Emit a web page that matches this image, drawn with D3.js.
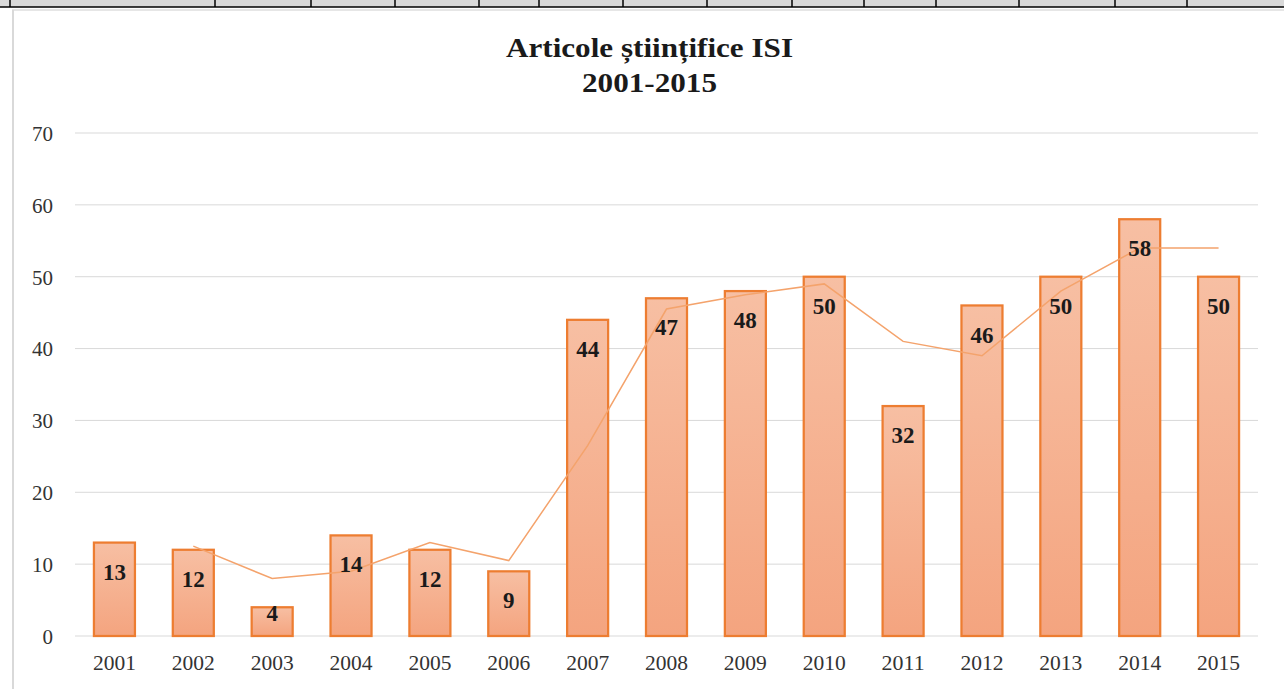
<!DOCTYPE html>
<html>
<head>
<meta charset="utf-8">
<script src="https://cdn.jsdelivr.net/npm/d3@7"></script>
<style>
  html, body { margin: 0; padding: 0; background: #fff; }
  svg { display: block; }
  .axis text { font-family: "Liberation Serif", "Times New Roman", serif; font-size: 21px; fill: #333; }
  .axis path, .axis line { display: none; }
</style>
</head>
<body>
<div id="chart"></div>
<script>
// data
const years = ['2001','2002','2003','2004','2005','2006','2007','2008','2009','2010','2011','2012','2013','2014','2015'];
const articles = [13, 12, 4, 14, 12, 9, 44, 47, 48, 50, 32, 46, 50, 58, 50];
// 2-period moving average trend line (starts at 2002)
const trendYears = ['2002','2003','2004','2005','2006','2007','2008','2009','2010','2011','2012','2013','2014','2015'];
const trendValues = [12.5, 8, 9, 13, 10.5, 26.5, 45.5, 47.5, 49, 41, 39, 48, 54, 54];
const yTicks = [0, 10, 20, 30, 40, 50, 60, 70];
// dividers of the spreadsheet row above the chart
const headerCols = [10, 215, 311, 395, 479, 539, 623, 707, 792, 864, 936, 1019, 1115, 1187];

const W = 1284, H = 689;
const plot = {l: 75, r: 1258, t: 133, b: 636};

const svg = d3.select('#chart').append('svg')
  .attr('width', W)
  .attr('height', H);

const defs = svg.append('defs');
const grad = defs.append('linearGradient')
  .attr('id', 'barFill')
  .attr('x1', 0).attr('y1', 0).attr('x2', 0).attr('y2', 1);
grad.append('stop').attr('offset', '0%').attr('stop-color', '#f7bfa3');
grad.append('stop').attr('offset', '100%').attr('stop-color', '#f4a47f');

// spreadsheet strip at the top
svg.append('rect').attr('x', 0).attr('y', 0).attr('width', W).attr('height', 7).attr('fill', '#d9d9d9');
svg.append('line').attr('x1', 0).attr('x2', W).attr('y1', 7).attr('y2', 7)
  .attr('stroke', '#000').attr('stroke-width', 1.5);
svg.selectAll('.hdr')
  .data(headerCols)
  .enter().append('line')
  .attr('class', 'hdr')
  .attr('x1', d => d).attr('x2', d => d)
  .attr('y1', 0).attr('y2', 7)
  .attr('stroke', '#000').attr('stroke-width', 1.5);

// chart area border
svg.append('line').attr('x1', 12).attr('x2', W).attr('y1', 10).attr('y2', 10)
  .attr('stroke', '#e6e6e6').attr('stroke-width', 2);
svg.append('line').attr('x1', 13).attr('x2', 13).attr('y1', 10).attr('y2', H)
  .attr('stroke', '#d9d9d9').attr('stroke-width', 2);

// title (glyphs stretched to the reference width)
const title = svg.append('text')
  .attr('text-anchor', 'middle')
  .style('font-family', '"Liberation Serif", "Times New Roman", serif')
  .style('font-weight', 'bold')
  .style('font-size', '27px')
  .attr('fill', '#1a1a1a');
title.append('tspan').attr('x', 649.5).attr('y', 57)
  .attr('textLength', 287).attr('lengthAdjust', 'spacingAndGlyphs')
  .text('Articole științifice ISI');
title.append('tspan').attr('x', 649.5).attr('y', 92)
  .attr('textLength', 135).attr('lengthAdjust', 'spacingAndGlyphs')
  .text('2001-2015');

const scaleX = d3.scaleBand()
  .domain(years)
  .range([plot.l, plot.r])
  .paddingInner(0.48)
  .paddingOuter(0.24);

const scaleY = d3.scaleLinear()
  .domain([0, 70])
  .range([plot.b, plot.t]);

// gridlines
svg.append('g')
  .selectAll('line')
  .data(yTicks)
  .enter().append('line')
  .attr('x1', plot.l).attr('x2', plot.r)
  .attr('y1', d => scaleY(d)).attr('y2', d => scaleY(d))
  .attr('stroke', '#d9d9d9').attr('stroke-width', 1);

// axes
const axisY = d3.axisLeft(scaleY).tickValues(yTicks).tickSize(0).tickPadding(0);
svg.append('g')
  .attr('class', 'axis axis-y')
  .attr('transform', 'translate(53,0)')
  .call(axisY)
  .selectAll('text')
  .attr('dy', '0.35em');

const axisX = d3.axisBottom(scaleX).tickSize(0).tickPadding(0);
svg.append('g')
  .attr('class', 'axis axis-x')
  .attr('transform', `translate(0,${plot.b})`)
  .call(axisX)
  .selectAll('text')
  .attr('y', 27)
  .attr('dy', '0.35em')
  .attr('textLength', 43)
  .attr('lengthAdjust', 'spacingAndGlyphs');

// bars
svg.append('g')
  .selectAll('rect')
  .data(articles)
  .enter().append('rect')
  .attr('x', (d, i) => scaleX(years[i]))
  .attr('y', d => scaleY(d))
  .attr('width', scaleX.bandwidth())
  .attr('height', d => scaleY(0) - scaleY(d))
  .attr('fill', 'url(#barFill)')
  .attr('stroke', '#ed7d31')
  .attr('stroke-width', 2.25);

// trend line
const line = d3.line()
  .x((d, i) => scaleX(trendYears[i]) + scaleX.bandwidth() / 2)
  .y(d => scaleY(d));
svg.append('path')
  .datum(trendValues)
  .attr('d', line)
  .attr('fill', 'none')
  .attr('stroke', '#f4a36c')
  .attr('stroke-width', 1.5);

// data labels
svg.append('g')
  .selectAll('text')
  .data(articles)
  .enter().append('text')
  .attr('x', (d, i) => scaleX(years[i]) + scaleX.bandwidth() / 2)
  .attr('y', d => Math.min(scaleY(d) + 29, scaleY(0) - 23))
  .attr('dy', '0.35em')
  .attr('text-anchor', 'middle')
  .style('font-family', '"Liberation Serif", "Times New Roman", serif')
  .style('font-weight', 'bold')
  .style('font-size', '23px')
  .attr('fill', '#1a1a1a')
  .text(d => d);
</script>
</body>
</html>
